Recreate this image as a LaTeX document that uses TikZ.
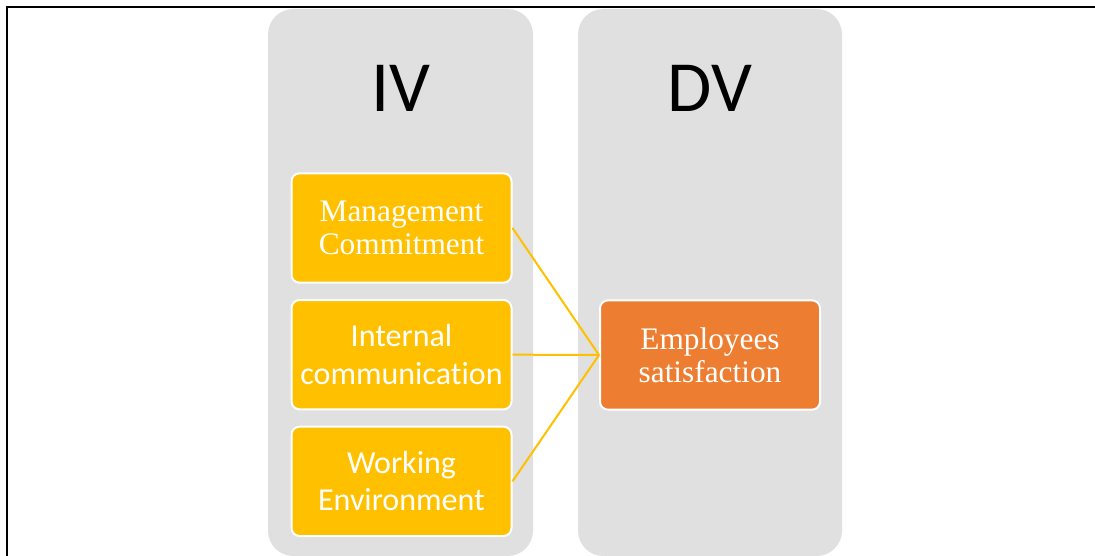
\documentclass[tikz,border=0pt]{standalone}
\usepackage{fontspec}
\setmainfont{Liberation Serif}
\newfontfamily\calibri[Ligatures=NoCommon]{Carlito}
\usetikzlibrary{positioning}

\definecolor{panelgray}{HTML}{E0E0E0}
\definecolor{ivyellow}{HTML}{FFC000}
\definecolor{dvorange}{HTML}{ED7D31}

\tikzset{
  panel/.style={fill=panelgray, rounded corners=19pt},
  heading/.style={font=\calibri\fontsize{54}{60}\selectfont},
  varbox/.style={draw=white, line width=1.5pt, rounded corners=6pt,
    minimum width=165pt, minimum height=82pt, align=center, text=white},
  ivbox/.style={varbox, fill=ivyellow, font=\calibri\fontsize{24}{28}\selectfont},
  dvbox/.style={varbox, fill=dvorange, font=\fontsize{23.5}{24.5}\selectfont},
  link/.style={draw=ivyellow, line width=1.5pt}
}

\begin{document}
\begin{tikzpicture}[x=0.75pt,y=-0.75pt]
    \useasboundingbox (0,0) rectangle (1095,556);

    %draw frame
    \draw[line width=1.6pt] (7,556) -- (7,7) -- (1095,7);

    %draw panels
    \fill[panel] (268,9) rectangle (533,556);
    \fill[panel] (578,9) rectangle (842,556);

    %draw headings
    \node[heading] (iv) at (401,88) {IV};
    \node[heading] (dv) at (710,88) {DV};

    %draw variable boxes
    \node[ivbox, font=\fontsize{23.5}{24.5}\selectfont] (mgmt) at (401.5,228) {Management\\Commitment};
    \node[ivbox, below=11.5pt of mgmt] (comm) {Internal\\communication};
    \node[ivbox, below=11.5pt of comm] (env) {Working\\Environment};
    \node[dvbox] (sat) at (710,355) {Employees\\satisfaction};

    %draw links
    \foreach \n in {mgmt,comm,env}
    \draw[link] (\n.east) -- (sat.west);

\end{tikzpicture}
\end{document}
